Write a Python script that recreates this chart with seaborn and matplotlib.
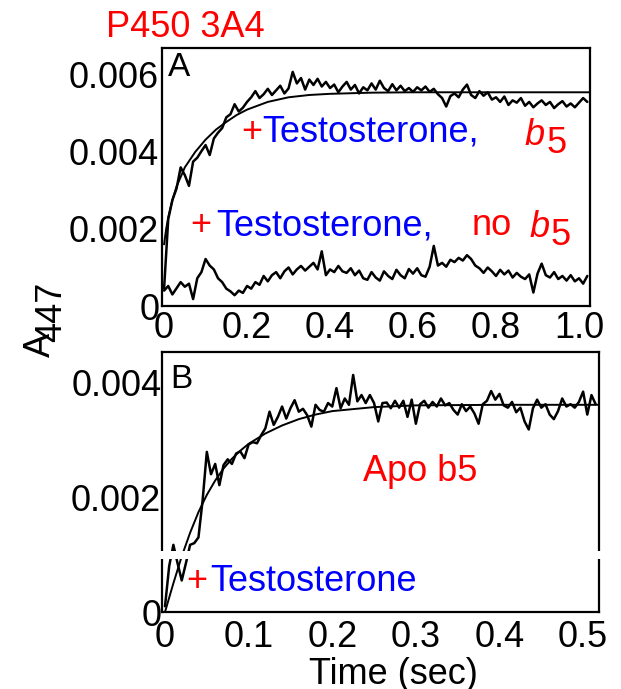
import numpy as np
import pandas as pd
import matplotlib
matplotlib.use("Agg")
import matplotlib.pyplot as plt
import matplotlib.transforms as mtransforms
from matplotlib.patches import Rectangle
from matplotlib.ticker import MultipleLocator
import seaborn as sns

sns.set_style("white")
plt.rcParams["font.family"] = ["Liberation Sans", "DejaVu Sans"]

# ---------------- data (absorbance values in units of 1e-3) ----------------
step_a = 0.01
trace_a_b5 = [0.45, 2.25, 2.75, 3.05, 3.60, 3.40, 3.12, 3.75, 3.85, 4.02,
              4.18, 3.92, 4.35, 4.50, 4.62, 4.90, 4.98, 5.24, 5.05, 5.15,
              5.30, 5.42, 5.58, 5.40, 5.50, 5.64, 5.48, 5.60, 5.72, 5.52,
              5.65, 6.08, 5.78, 5.92, 5.62, 5.88, 5.74, 5.90, 5.70, 5.82,
              5.66, 5.75, 5.55, 5.70, 5.82, 5.62, 5.74, 5.52, 5.68, 5.60,
              5.78, 5.62, 5.85, 5.66, 5.58, 5.76, 5.60, 5.72, 5.58, 5.66,
              5.56, 5.68, 5.60, 5.70, 5.56, 5.64, 5.50, 5.40, 5.18, 5.45,
              5.52, 5.42, 5.62, 5.75, 5.48, 5.40, 5.58, 5.46, 5.55, 5.36,
              5.42, 5.30, 5.44, 5.22, 5.34, 5.28, 5.40, 5.20, 5.30, 5.16,
              5.26, 5.34, 5.22, 5.30, 5.14, 5.24, 5.32, 5.18, 5.26, 5.16,
              5.28, 5.40, 5.30]
trace_a_nob5 = [0.40, 0.52, 0.30, 0.46, 0.62, 0.50, 0.58, 0.18, 0.72, 0.88,
                1.22, 1.05, 0.95, 0.72, 0.62, 0.45, 0.38, 0.28, 0.40, 0.34,
                0.52, 0.45, 0.62, 0.55, 0.78, 0.64, 0.80, 0.88, 0.72, 0.90,
                1.00, 0.82, 0.95, 1.04, 0.92, 1.02, 1.12, 0.95, 1.42, 0.80,
                0.95, 0.88, 1.04, 0.90, 0.86, 0.98, 0.80, 0.92, 0.72, 0.68,
                0.88, 0.74, 0.66, 0.90, 0.78, 0.70, 0.94, 0.80, 0.72, 0.96,
                0.84, 0.98, 0.80, 0.76, 1.02, 1.56, 1.05, 1.12, 1.02, 1.20,
                1.14, 1.25, 1.18, 1.32, 1.22, 1.05, 0.98, 0.86, 1.00, 0.90,
                0.78, 0.94, 0.82, 0.92, 0.74, 0.86, 0.76, 0.70, 0.82, 0.35,
                0.84, 1.10, 0.80, 0.74, 0.88, 0.70, 0.78, 0.66, 0.80, 0.64,
                0.72, 0.58, 0.78]
fit_a_t = [0, 0.005, 0.01, 0.02, 0.03, 0.05, 0.075, 0.10, 0.125, 0.15,
           0.175, 0.20, 0.25, 0.30, 0.35, 0.40, 0.50, 0.60, 0.80, 1.027]
fit_a = [1.6, 2.0, 2.3, 2.75, 3.1, 3.6, 4.0, 4.32, 4.58, 4.78,
         4.96, 5.10, 5.30, 5.42, 5.48, 5.51, 5.54, 5.55, 5.55, 5.55]

step_b = 0.005
trace_b_apo = [0.10, 0.80, 1.17, 0.85, 0.55, 0.85, 1.17, 1.20, 1.30, 1.95,
               2.79, 2.40, 2.58, 2.21, 2.56, 2.66, 2.58, 2.76, 2.80, 2.68,
               2.92, 2.96, 2.94, 3.08, 3.20, 3.49, 3.26, 3.40, 3.58, 3.37,
               3.55, 3.69, 3.49, 3.54, 3.43, 3.23, 3.61, 3.52, 3.49, 3.64,
               3.58, 3.90, 3.55, 3.72, 3.61, 4.13, 3.67, 3.78, 3.64, 3.78,
               3.64, 3.32, 3.64, 3.65, 3.55, 3.68, 3.56, 3.68, 3.40, 3.70,
               3.28, 3.62, 3.68, 3.56, 3.66, 3.58, 3.72, 3.60, 3.64, 3.52,
               3.44, 3.62, 3.50, 3.58, 3.46, 3.28, 3.62, 3.68, 3.85, 3.70,
               3.80, 3.60, 3.56, 3.66, 3.48, 3.56, 3.32, 3.18, 3.55, 3.70,
               3.56, 3.62, 3.44, 3.36, 3.50, 3.72, 3.58, 3.62, 3.56, 3.66,
               3.84, 3.44, 3.78, 3.62]
fit_b_t = [0, 0.01, 0.02, 0.03, 0.04, 0.05, 0.06, 0.07, 0.08, 0.09,
           0.10, 0.12, 0.14, 0.16, 0.18, 0.20, 0.25, 0.30, 0.40, 0.519]
fit_b = [0, 0.50, 0.97, 1.38, 1.74, 2.04, 2.29, 2.50, 2.67, 2.81,
         2.93, 3.11, 3.25, 3.36, 3.44, 3.50, 3.57, 3.60, 3.61, 3.61]

xticks_a = [0, 0.2, 0.4, 0.6, 0.8, 1.0]
xticklabels_a = ["0", "0.2", "0.4", "0.6", "0.8", "1.0"]
yticks_a = [0, 0.002, 0.004, 0.006]
yticklabels_a = ["0", "0.002", "0.004", "0.006"]
xticks_b = [0, 0.1, 0.2, 0.3, 0.4, 0.5]
xticklabels_b = ["0", "0.1", "0.2", "0.3", "0.4", "0.5"]
yticks_b = [0, 0.002, 0.004]
yticklabels_b = ["0", "0.002", "0.004"]

scale = 1e-3
df_a1 = pd.DataFrame({"t": np.arange(len(trace_a_b5)) * step_a,
                      "A": np.array(trace_a_b5) * scale})
df_a2 = pd.DataFrame({"t": np.arange(len(trace_a_nob5)) * step_a,
                      "A": np.array(trace_a_nob5) * scale})
df_af = pd.DataFrame({"t": fit_a_t, "A": np.array(fit_a) * scale})
df_b = pd.DataFrame({"t": np.arange(len(trace_b_apo)) * step_b,
                     "A": np.array(trace_b_apo) * scale})
df_bf = pd.DataFrame({"t": fit_b_t, "A": np.array(fit_b) * scale})

# ---------------- figure ----------------
W, H = 621, 689
fig = plt.figure(figsize=(W / 100, H / 100), dpi=100)


def fx(px):
    return px / W


def fy(py):
    return 1 - py / H


axA = fig.add_axes([fx(162), fy(306), fx(590) - fx(162), fy(48) - fy(306)])
axB = fig.add_axes([fx(162), fy(612), fx(599) - fx(162), fy(352) - fy(612)])

kw = dict(color="black", estimator=None, sort=False, legend=False)
sns.lineplot(data=df_a1, x="t", y="A", ax=axA, lw=1.8, **kw)
sns.lineplot(data=df_a2, x="t", y="A", ax=axA, lw=1.8, **kw)
sns.lineplot(data=df_af, x="t", y="A", ax=axA, lw=1.4, **kw)
sns.lineplot(data=df_b, x="t", y="A", ax=axB, lw=1.8, **kw)
sns.lineplot(data=df_bf, x="t", y="A", ax=axB, lw=1.4, **kw)

axA.set_xlim(-0.005, 1.0265)
axA.set_ylim(0, 0.0067)
axB.set_xlim(-0.0036, 0.519)
axB.set_ylim(0, 0.00453)

for ax, xt, xl, yt, yl, xpad, ypad, xmin, ymin in [
        (axA, xticks_a, xticklabels_a, yticks_a, yticklabels_a, 3.6, 2, 0.1, 0.001),
        (axB, xticks_b, xticklabels_b, yticks_b, yticklabels_b, 5.8, 0.5, 0.05, 0.001)]:
    ax.set_xticks(xt)
    ax.set_xticklabels(xl)
    ax.set_yticks(yt)
    ax.set_yticklabels(yl)
    ax.xaxis.set_minor_locator(MultipleLocator(xmin))
    ax.yaxis.set_minor_locator(MultipleLocator(ymin))
    ax.tick_params(axis="both", which="major", direction="in", length=5,
                   width=1.2, labelsize=26, colors="black")
    ax.tick_params(axis="both", which="minor", direction="in", length=3,
                   width=1.0)
    ax.tick_params(axis="x", which="major", pad=xpad)
    ax.tick_params(axis="y", which="major", pad=ypad)
    ax.set_xlabel("")
    ax.set_ylabel("")
    for sp in ax.spines.values():
        sp.set_visible(True)
        sp.set_color("black")
        sp.set_linewidth(1.6)

# broken-axis gap in panel B
trans = mtransforms.blended_transform_factory(axB.transAxes, axB.transData)
axB.add_patch(Rectangle((-0.03, 0.00093), 1.06, 0.00013, transform=trans,
                        facecolor="white", edgecolor="none", clip_on=False,
                        zorder=10))


def txt(x, y, s, color="black", size=26, **k):
    fig.text(fx(x), fy(y), s, color=color, fontsize=size, ha="left",
             va="baseline", **k)


RED = "#ff0000"
BLUE = "#0000ff"

txt(106, 37, "P450 3A4", RED)
txt(168, 76, "A", size=24)
txt(241, 142, "+", RED)
txt(262, 142, "Testosterone,", BLUE)
txt(524, 145, "b", RED, style="italic")
txt(546, 153, "5", RED)
txt(190, 235, "+", RED)
txt(216, 235, "Testosterone,", BLUE)
txt(472, 235, "no", RED)
txt(529, 237, "b", RED, style="italic")
txt(550, 245, "5", RED)

txt(170, 388, "B", size=24)
txt(363, 481, "Apo b5", RED)
txt(186, 591, "+", RED)
txt(210, 591, "Testosterone", BLUE)

fig.text(fx(393), fy(684), "Time (sec)", fontsize=26, ha="center",
         va="baseline", color="black")
fig.text(fx(40), fy(345), "A", fontsize=26, rotation=90, ha="center",
         va="center", color="black")
fig.text(fx(51.5), fy(312), "447", fontsize=26, rotation=90, ha="center",
         va="center", color="black")

fig.savefig("out.png", dpi=100)
